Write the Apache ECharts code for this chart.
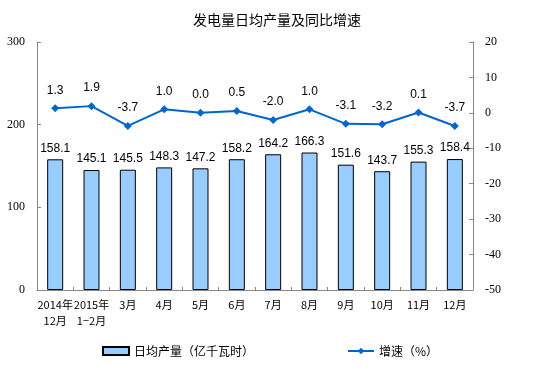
<!DOCTYPE html>
<html><head><meta charset="utf-8">
<script src="https://cdn.jsdelivr.net/npm/echarts@6/dist/echarts.min.js"></script>
<style>html,body{margin:0;padding:0;background:#fff}#c{width:554px;height:382px}</style>
</head><body><div id="c"></div>
<script>
const categories = ['2014年\n12月','2015年\n1−2月','3月','4月','5月','6月','7月','8月','9月','10月','11月','12月'];
const dailyOutput = [158.1,145.1,145.5,148.3,147.2,158.2,164.2,166.3,151.6,143.7,155.3,158.4];
const growth = [1.3,1.9,-3.7,1.0,0.0,0.5,-2.0,1.0,-3.1,-3.2,0.1,-3.7];
const barName = '日均产量（亿千瓦时）';
const lineName = '增速（%）';

const chart = echarts.init(document.getElementById('c'), null, {renderer:'canvas'});
const cjk = '"Noto Sans CJK SC", sans-serif';
const axisLine = {show:true, lineStyle:{color:'#888', width:1}};
chart.setOption({
  animation:false,
  title:{text:'发电量日均产量及同比增速', left:'center', top:8,
    textStyle:{fontFamily:cjk, fontSize:14, fontWeight:'normal', color:'#000'}},
  legend:[
    {data:[{name:barName, icon:'rect'}], left:97, top:340, itemWidth:26, itemHeight:8, itemGap:4,
      textStyle:{fontFamily:cjk, fontSize:12, color:'#000'}},
    {data:[lineName], left:342, top:340, itemWidth:26, itemHeight:8, itemGap:4,
      textStyle:{fontFamily:cjk, fontSize:12, color:'#000'}}
  ],
  grid:{left:37, right:81, top:42, bottom:92},
  xAxis:{type:'category', data:categories, axisLine:axisLine,
    axisTick:{show:true, inside:true, length:3, lineStyle:{color:'#888'}},
    axisLabel:{fontFamily:cjk, fontSize:11, color:'#000', lineHeight:16, margin:7, interval:0}},
  yAxis:[
    {type:'value', min:0, max:300, interval:100, splitLine:{show:false}, axisLine:axisLine,
      axisTick:{show:true, inside:true, length:4, lineStyle:{color:'#888'}},
      axisLabel:{fontFamily:'"Liberation Serif", serif', fontSize:12, color:'#000', margin:12}},
    {type:'value', min:-50, max:20, interval:10, splitLine:{show:false}, axisLine:axisLine,
      axisTick:{show:true, inside:true, length:4, lineStyle:{color:'#888'}},
      axisLabel:{fontFamily:'"Liberation Serif", serif', fontSize:12, color:'#000', margin:12}}
  ],
  series:[
    {name:barName, type:'bar', data:dailyOutput, barWidth:16, yAxisIndex:0,
      itemStyle:{color:'#99CCFF', borderColor:'#000', borderWidth:1},
      label:{show:true, position:'top', distance:5, formatter:p=>p.value.toFixed(1),
        fontFamily:'"Liberation Sans", Arial, sans-serif', fontSize:12, color:'#000'}},
    {name:lineName, type:'line', data:growth, yAxisIndex:1,
      symbol:'diamond', symbolSize:8,
      lineStyle:{color:'#0066CC', width:2}, itemStyle:{color:'#0066CC'},
      label:{show:true, position:'top', distance:8, formatter:p=>p.value.toFixed(1),
        fontFamily:'"Liberation Sans", Arial, sans-serif', fontSize:12, color:'#000'}}
  ]
});
</script></body></html>
